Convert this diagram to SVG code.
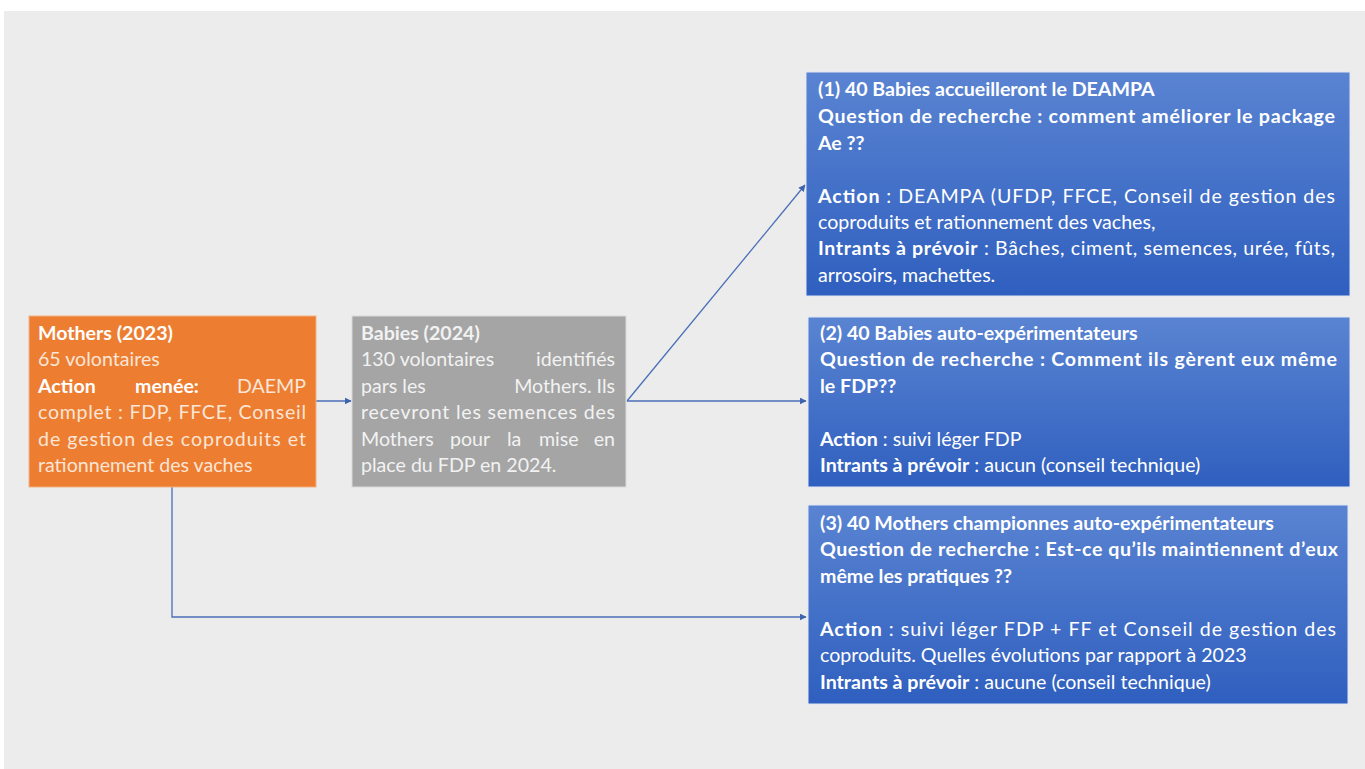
<svg xmlns="http://www.w3.org/2000/svg" width="1365" height="769" viewBox="0 0 1365 769">
<style>
  text { font-family: Lato, "Liberation Sans", sans-serif; font-size: 19.6px; }
  .b { font-weight: bold; }
  .wt { fill: #ffffff; }
  .ot { fill: #fbe5d6; }
  .gt { fill: #f2f2f2; }
  .conn { stroke: #4a6fb8; stroke-width: 1.3; fill: none; }
</style>
<defs>
  <linearGradient id="blueGrad" x1="0" y1="0" x2="0" y2="1">
    <stop offset="0" stop-color="#5a84d2"/>
    <stop offset="1" stop-color="#2f5fbf"/>
  </linearGradient>
  <marker id="arr" viewBox="0 0 10 10" refX="9" refY="5" markerWidth="7" markerHeight="7" orient="auto" markerUnits="userSpaceOnUse">
    <path d="M0,0 L10,5 L0,10 z" fill="#3f63ad"/>
  </marker>
</defs>
<rect x="0" y="0" width="1365" height="769" fill="#ffffff"/>
<rect x="4" y="11" width="1361" height="758" fill="#ececec"/>

<g id="connectors">
  <line class="conn" x1="316" y1="401" x2="351" y2="401" marker-end="url(#arr)"/>
  <line class="conn" x1="627" y1="401" x2="806" y2="401" marker-end="url(#arr)"/>
  <line class="conn" x1="627" y1="401" x2="805" y2="185" marker-end="url(#arr)"/>
  <path class="conn" d="M172,487 V617 H806" stroke="#7d92b3" marker-end="url(#arr)"/>
</g>

<g id="mothers">
  <rect x="29" y="316" width="287" height="171" fill="#ed7d31" stroke="#f4b183" stroke-width="1"/>
  <text x="38" y="340" class="b wt">Mothers (2023)</text>
  <text x="38" y="366" class="ot">65 volontaires</text>
  <text x="38" y="393" class="b wt">Action</text>
  <text x="135" y="393" class="b wt">menée:</text>
  <text x="306" y="393" class="ot" text-anchor="end">DAEMP</text>
  <text x="38" y="419" class="ot" textLength="268" lengthAdjust="spacing">complet : FDP, FFCE, Conseil</text>
  <text x="38" y="446" class="ot" textLength="268" lengthAdjust="spacing">de gestion des coproduits et</text>
  <text x="38" y="472" class="ot">rationnement des vaches</text>
</g>

<g id="babies">
  <rect x="352" y="316" width="274" height="171" fill="#a5a5a5" stroke="#d9d9d9" stroke-width="1"/>
  <text x="361" y="340" class="b gt">Babies (2024)</text>
  <text x="361" y="366" class="gt">130 volontaires</text>
  <text x="615" y="366" class="gt" text-anchor="end">identifiés</text>
  <text x="361" y="393" class="gt">pars les</text>
  <text x="615" y="393" class="gt" text-anchor="end">Mothers. Ils</text>
  <text x="361" y="419" class="gt" textLength="254" lengthAdjust="spacing">recevront les semences des</text>
  <text y="446" class="gt"><tspan x="361">Mothers</tspan><tspan x="450">pour</tspan><tspan x="507">la</tspan><tspan x="539">mise</tspan></text>
  <text x="615" y="446" class="gt" text-anchor="end">en</text>
  <text x="361" y="472" class="gt">place du FDP en 2024.</text>
</g>

<g id="option1">
  <rect x="806" y="72" width="544" height="224" fill="url(#blueGrad)" stroke="#dfe6f3" stroke-width="1"/>
  <text x="818" y="96" class="b wt">(1) 40 Babies accueilleront le DEAMPA</text>
  <text x="818" y="123" class="b wt" textLength="517" lengthAdjust="spacing">Question de recherche : comment améliorer le package</text>
  <text x="818" y="150" class="b wt">Ae ??</text>
  <text x="818" y="203" class="wt" textLength="517" lengthAdjust="spacing"><tspan class="b">Action</tspan> : DEAMPA (UFDP, FFCE, Conseil de gestion des</text>
  <text x="818" y="229" class="wt">coproduits et rationnement des vaches,</text>
  <text x="818" y="255" class="wt" textLength="517" lengthAdjust="spacing"><tspan class="b">Intrants à prévoir</tspan> :  Bâches, ciment, semences, urée, fûts,</text>
  <text x="818" y="282" class="wt">arrosoirs, machettes.</text>
</g>

<g id="option2">
  <rect x="808" y="317" width="542" height="170" fill="url(#blueGrad)" stroke="#dfe6f3" stroke-width="1"/>
  <text x="820" y="340" class="b wt">(2) 40 Babies auto-expérimentateurs</text>
  <text x="820" y="366" class="b wt" textLength="517" lengthAdjust="spacing">Question de recherche : Comment ils gèrent eux même</text>
  <text x="820" y="393" class="b wt">le FDP??</text>
  <text x="820" y="446" class="wt"><tspan class="b">Action</tspan> : suivi léger FDP</text>
  <text x="820" y="472" class="wt"><tspan class="b">Intrants à prévoir</tspan> : aucun (conseil technique)</text>
</g>

<g id="option3">
  <rect x="808" y="505" width="540" height="199" fill="url(#blueGrad)" stroke="#dfe6f3" stroke-width="1"/>
  <text x="820" y="530" class="b wt">(3) 40 Mothers championnes auto-expérimentateurs</text>
  <text x="820" y="556" class="b wt" textLength="518" lengthAdjust="spacing">Question de recherche : Est-ce qu’ils maintiennent d’eux</text>
  <text x="820" y="583" class="b wt">même les pratiques ??</text>
  <text x="820" y="636" class="wt" textLength="516" lengthAdjust="spacing"><tspan class="b">Action</tspan> : suivi léger FDP + FF et Conseil de gestion des</text>
  <text x="820" y="662" class="wt">coproduits. Quelles évolutions par rapport à 2023</text>
  <text x="820" y="689" class="wt"><tspan class="b">Intrants à prévoir</tspan> : aucune (conseil technique)</text>
</g>
</svg>
